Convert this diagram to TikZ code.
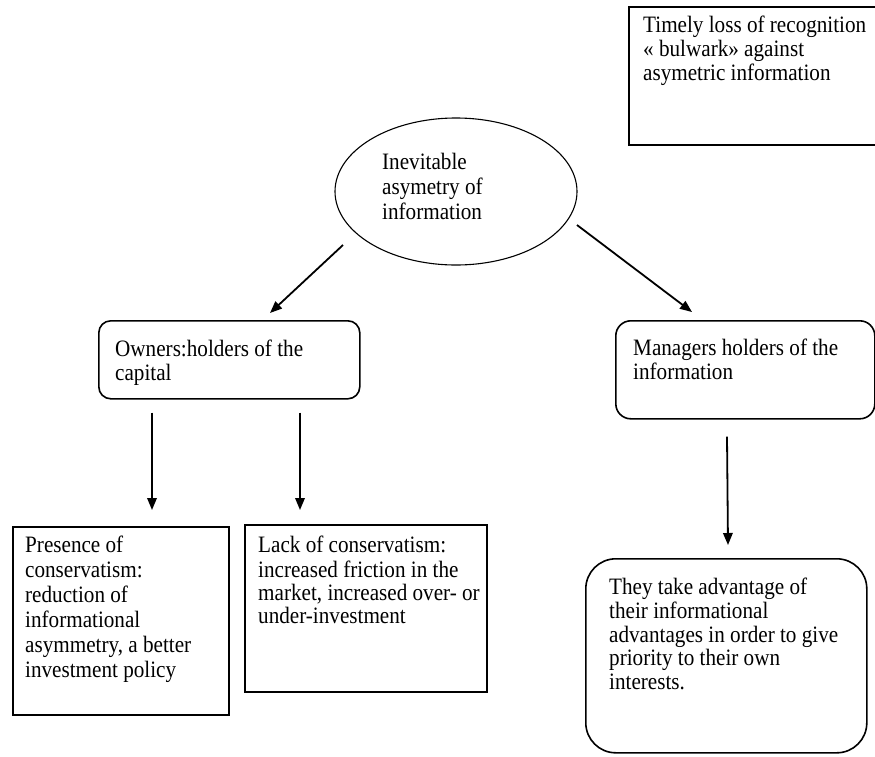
\documentclass[tikz,border=0pt]{standalone}
\usepackage{fontspec}
\setmainfont{Liberation Serif}[FakeStretch=0.9]
\usetikzlibrary{arrows.meta,shapes.geometric,calc}
\begin{document}
\begin{tikzpicture}[x=1pt,y=-1pt,
  box/.style={draw,line width=1.6pt,inner sep=0pt,anchor=north west},
  rbox/.style={box,rounded corners=14pt},
  txt/.style={inner sep=0pt,anchor=north west,align=left},
  arr/.style={line width=1.8pt,-{Triangle[length=12pt,width=9.5pt]}}]
\useasboundingbox (0,0) rectangle (875,756);

% top-right box
\node[box,minimum width=262pt,minimum height=138pt] (tl) at (628,6) {};
\node[txt,font=\fontsize{23.5}{24}\selectfont] (tlT) at (643,15.2)
  {\strut Timely loss of recognition\\« bulwark» against\\asymetric information};

% ellipse
\node[draw,ellipse,line width=1.1pt,minimum width=242pt,minimum height=147pt,inner sep=0pt] (ell) at (456,191.5) {};
\node[txt,font=\fontsize{23.5}{25}\selectfont] (ellT) at (382,151.5)
  {\strut Inevitable\\asymetry of\\information};

% owners
\node[rbox,rounded corners=12pt,minimum width=261pt,minimum height=78pt] (own) at (98,320) {};
\node[txt,font=\fontsize{23.5}{22}\selectfont] (ownT) at (115,339.6)
  {\strut Owners:holders of the\\capital};

% managers
\node[rbox,rounded corners=15pt,minimum width=259pt,minimum height=98pt] (man) at (615,320) {};
\node[txt,font=\fontsize{23.5}{22}\selectfont] (manT) at (633,338.6)
  {\strut Managers holders of the\\information};

% presence
\node[box,minimum width=216pt,minimum height=188pt] (pres) at (12,526) {};
\node[txt,font=\fontsize{23.5}{25}\selectfont] (presT) at (25,534.5)
  {\strut Presence of\\conservatism:\\reduction of\\informational\\asymmetry, a better\\investment policy};

% lack
\node[box,minimum width=242pt,minimum height=167pt] (lack) at (244,524) {};
\node[txt,font=\fontsize{23.5}{23}\selectfont] (lackT) at (258,535.9)
  {\strut Lack of conservatism:\\increased friction in the\\market, increased over- or\\under-investment};

% they take
\node[rbox,rounded corners=30pt,minimum width=281pt,minimum height=194pt] (they) at (585,558) {};
\node[txt,font=\fontsize{23.5}{23.5}\selectfont] (theyT) at (609,577.55)
  {\strut They take advantage of\\their informational\\advantages in order to give\\priority to their own\\interests.};

% connectors
\draw[arr] ($(ell.center)+(-113,53.5)$) -- ($(own.north west)+(172,-7)$);
\draw[arr] ($(ell.center)+(121,33.5)$) -- ($(man.north west)+(77,-8)$);
\draw[arr] ($(own.south west)+(54,13)$) -- ($(pres.north west)+(140,-16)$);
\draw[arr] ($(own.south west)+(202,13)$) -- ($(lack.north west)+(56,-14)$);
\draw[arr] ($(man.south west)+(112,17)$) -- ($(they.north west)+(143,-13)$);
\end{tikzpicture}
\end{document}
